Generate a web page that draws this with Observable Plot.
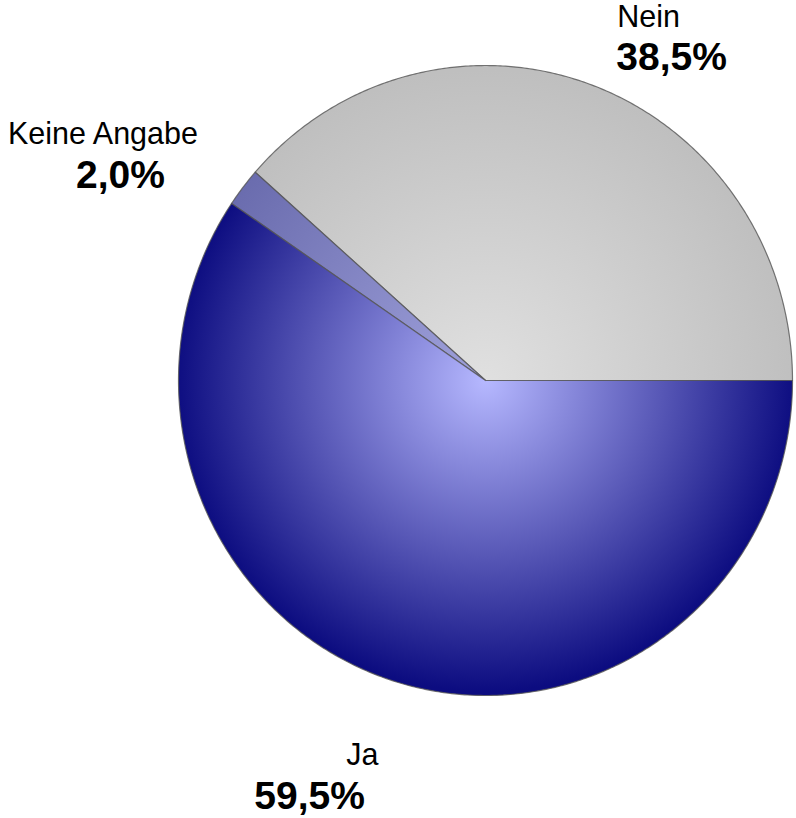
<!DOCTYPE html>
<html>
<head>
<meta charset="utf-8">
<script src="https://cdn.jsdelivr.net/npm/d3@7"></script>
<script src="https://cdn.jsdelivr.net/npm/@observablehq/plot@0.6"></script>
<style>
  html, body { margin: 0; padding: 0; background: #fff; }
  #chart { width: 796px; height: 818px; }
</style>
</head>
<body>
<div id="chart"></div>
<script>
// ---- data ----
const categories = ["Nein", "Keine Angabe", "Ja"];
const shares = [38.5, 2.0, 59.5];
const percentLabels = ["38,5%", "2,0%", "59,5%"];

// ---- styles / layout (not data) ----
const gradients = [
  {id: "gNein", stops: [[0, "#e0e0e0"], [1, "#bfbfbf"]]},
  {id: "gKeine", stops: [[0, "#a0a2dc"], [1, "#6a6cae"]]},
  {id: "gJa", stops: [[0, "#b6b8ff"], [0.55, "#5a5ab8"], [1, "#0c0c80"]]}
];
// label anchor points in pie-unit coordinates (name line, percent line)
const labelLayout = [
  {name: [0.531, 1.152], pct: [0.606, 1.025]},
  {name: [-1.246, 0.783], pct: [-1.189, 0.651]},
  {name: [-0.401, -1.190], pct: [-0.573, -1.321]}
];

// build wedge polygons from shares (counterclockwise from east)
const total = d3.sum(shares);
let cum = 0;
const wedges = categories.map((c, i) => {
  const a0 = cum / total * 2 * Math.PI;
  cum += shares[i];
  const a1 = cum / total * 2 * Math.PI;
  const n = Math.max(4, Math.ceil((a1 - a0) / (Math.PI / 360)));
  const pts = [{x: 0, y: 0}];
  for (let k = 0; k <= n; k++) {
    const t = a0 + (a1 - a0) * k / n;
    pts.push({x: Math.cos(t), y: Math.sin(t)});
  }
  pts.push({x: 0, y: 0});
  return pts;
});

const nameRows = categories.map((c, i) => ({t: c, x: labelLayout[i].name[0], y: labelLayout[i].name[1]}));
const pctRows = percentLabels.map((p, i) => ({t: p, x: labelLayout[i].pct[0], y: labelLayout[i].pct[1]}));

const font = "'Liberation Sans', Arial, Helvetica, sans-serif";

const plot = Plot.plot({
  width: 796,
  height: 818,
  margin: 0,
  style: {background: "#fff", fontFamily: font},
  x: {domain: [-1, 1], range: [178, 792], axis: null},
  y: {domain: [-1, 1], range: [695, 65], axis: null},
  marks: [
    ...wedges.map((pts, i) => Plot.line(pts, {
      x: "x", y: "y",
      fill: `url(#${gradients[i].id})`,
      stroke: "#555555", strokeWidth: 1.2, strokeOpacity: 0.8,
      curve: "linear"
    })),
    Plot.text(nameRows, {x: "x", y: "y", text: "t", fontSize: 30.5, fill: "#000", lineAnchor: "middle", fontFamily: font}),
    Plot.text(pctRows, {x: "x", y: "y", text: "t", fontSize: 39, fontWeight: "bold", fill: "#000", lineAnchor: "middle", fontFamily: font})
  ]
});

// radial gradients centred on the pie centre
const sx = plot.scale("x"), sy = plot.scale("y");
const cx = sx.apply(0), cy = sy.apply(0);
const r = (sx.apply(1) - sx.apply(-1)) / 2 + 4;
const svg = d3.select(plot);
const defs = svg.insert("defs", ":first-child");
gradients.forEach(g => {
  const rg = defs.append("radialGradient")
    .attr("id", g.id)
    .attr("gradientUnits", "userSpaceOnUse")
    .attr("cx", cx).attr("cy", cy).attr("r", r);
  g.stops.forEach(([o, c]) => rg.append("stop").attr("offset", o).attr("stop-color", c));
});

document.getElementById("chart").appendChild(plot);
</script>
</body>
</html>
